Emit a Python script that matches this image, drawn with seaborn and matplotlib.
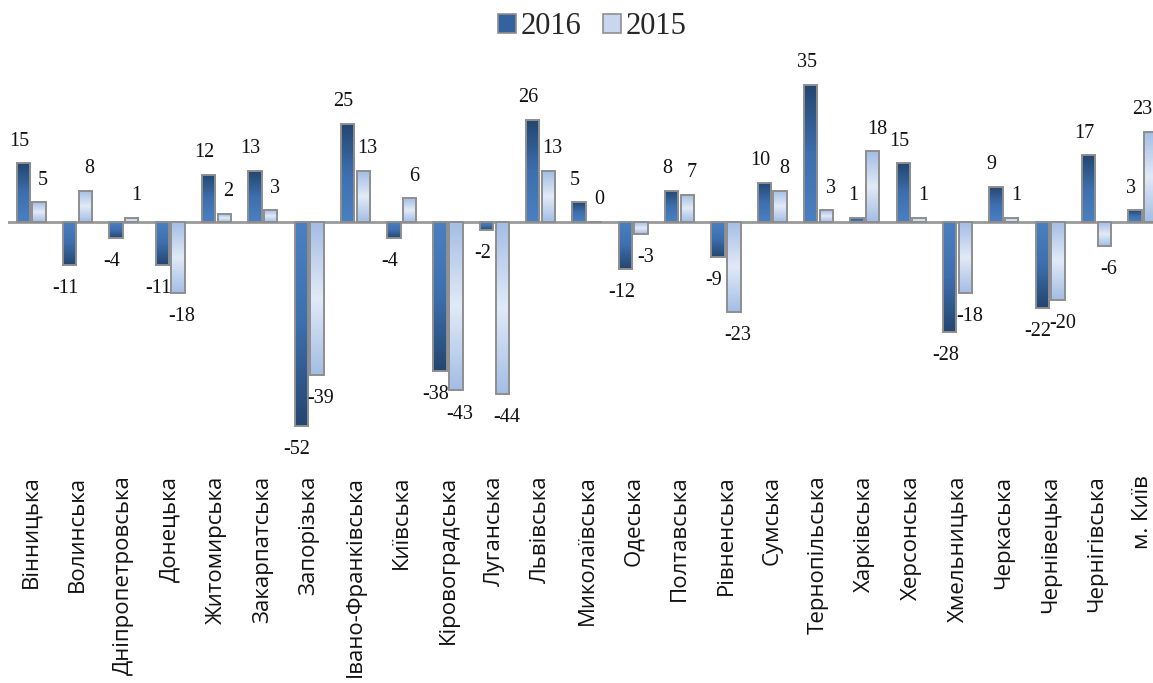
import numpy as np
import pandas as pd
import matplotlib
matplotlib.use("Agg")
import matplotlib.pyplot as plt
from matplotlib.colors import LinearSegmentedColormap
from matplotlib.patches import Patch
import seaborn as sns

regions = ["Вінницька", "Волинська", "Дніпропетровська", "Донецька", "Житомирська",
           "Закарпатська", "Запорізька", "Івано-Франківська", "Київська", "Кіровоградська",
           "Луганська", "Львівська", "Миколаївська", "Одеська", "Полтавська", "Рівненська",
           "Сумська", "Тернопільська", "Харківська", "Херсонська", "Хмельницька",
           "Черкаська", "Чернівецька", "Чернігівська", "м. Київ"]
v2016 = [15, -11, -4, -11, 12, 13, -52, 25, -4, -38, -2, 26, 5, -12, 8, -9, 10, 35, 1, 15, -28, 9, -22, 17, 3]
v2015 = [5, 8, 1, -18, 2, 3, -39, 13, 6, -43, -44, 13, 0, -3, 7, -23, 8, 3, 18, 1, -18, 1, -20, -6, 23]
years = ["2016", "2015"]

df = pd.DataFrame({
    "region": regions * 2,
    "year": [years[0]] * len(regions) + [years[1]] * len(regions),
    "value": v2016 + v2015,
})

sns.set_theme(style="white")
plt.rcParams["font.family"] = ["Open Sans", "DejaVu Sans"]

W, H = 1153, 683
fig = plt.figure(figsize=(W / 100, H / 100), dpi=100)
ax_left, ax_right, ax_top, ax_bottom = 8, W, 50, 470
ax = fig.add_axes([ax_left / W, 1 - ax_bottom / H, (ax_right - ax_left) / W, (ax_bottom - ax_top) / H])

dark_main = "#3a6aa8"
light_main = "#c4d4ee"
sns.barplot(data=df, x="region", y="value", hue="year", hue_order=years,
            palette=[dark_main, light_main], width=0.68, gap=0.15,
            edgecolor="#8e8e8e", linewidth=1.4, legend=False, ax=ax)

dark_cmap = LinearSegmentedColormap.from_list("dk", ["#4a80c2", "#3d6fae", "#24466f"])
light_cmap = LinearSegmentedColormap.from_list("lt", ["#a3bde5", "#e2eaf7", "#a3bde5"])

grad = np.linspace(0, 1, 128).reshape(-1, 1)
labels = []
for ci, (cont, vals) in enumerate(zip(ax.containers, [v2016, v2015])):
    for patch, v in zip(cont.patches, vals):
        x0 = patch.get_x()
        w = patch.get_width()
        if v != 0:
            cmap = dark_cmap if ci == 0 else light_cmap
            im = ax.imshow(grad, extent=[x0, x0 + w, 0, v], origin="lower",
                           aspect="auto", cmap=cmap, vmin=0, vmax=1, zorder=2,
                           interpolation="bilinear")
            im.set_clip_path(patch)
        patch.set_facecolor("none")
        patch.set_zorder(3)
        off = 16 if v >= 0 else -17
        dx = -3 if ci == 0 else 3
        t = ax.annotate(str(v), xy=(x0 + w / 2, v), xytext=(dx, off), textcoords="offset points",
                        ha="center", va="center", fontsize=14.5, annotation_clip=False,
                        family=["Liberation Serif", "DejaVu Serif"], color="#111111")
        labels.append((t, dx, off))

ax.axhline(0, color="#9a9a9a", lw=2, zorder=1)
ax.set_xlim(-0.5, 24.22)
ax.set_ylim(-63.3, 43.9)
ax.set_xlabel("")
ax.set_ylabel("")
ax.set_yticks([])
for s in ax.spines.values():
    s.set_visible(False)
ax.tick_params(axis="x", length=0, pad=4)
plt.setp(ax.get_xticklabels(), rotation=90, fontsize=16, color="#111111",
         family=["Open Sans", "DejaVu Sans"])

handles = [Patch(facecolor="#35629e", edgecolor="#8e8e8e", lw=1.2),
           Patch(facecolor="#c8d7ef", edgecolor="#8e8e8e", lw=1.2)]
fig.legend(handles, years, loc="center", bbox_to_anchor=(592 / W, 1 - 27 / H),
           ncol=2, frameon=False, prop={"family": ["Liberation Serif", "DejaVu Serif"], "size": 22},
           handlelength=0.6, handleheight=0.6, handletextpad=0.15, columnspacing=0.7,
           borderaxespad=0, borderpad=0)

# keep value labels inside the figure
fig.canvas.draw()
renderer = fig.canvas.get_renderer()
for t, dx, off in labels:
    ext = t.get_window_extent(renderer)
    if ext.x1 > W - 1:
        shift_px = ext.x1 - (W - 1)
        t.set_position((dx - shift_px * 72 / 100, off))

fig.savefig("out.png", dpi=100)
